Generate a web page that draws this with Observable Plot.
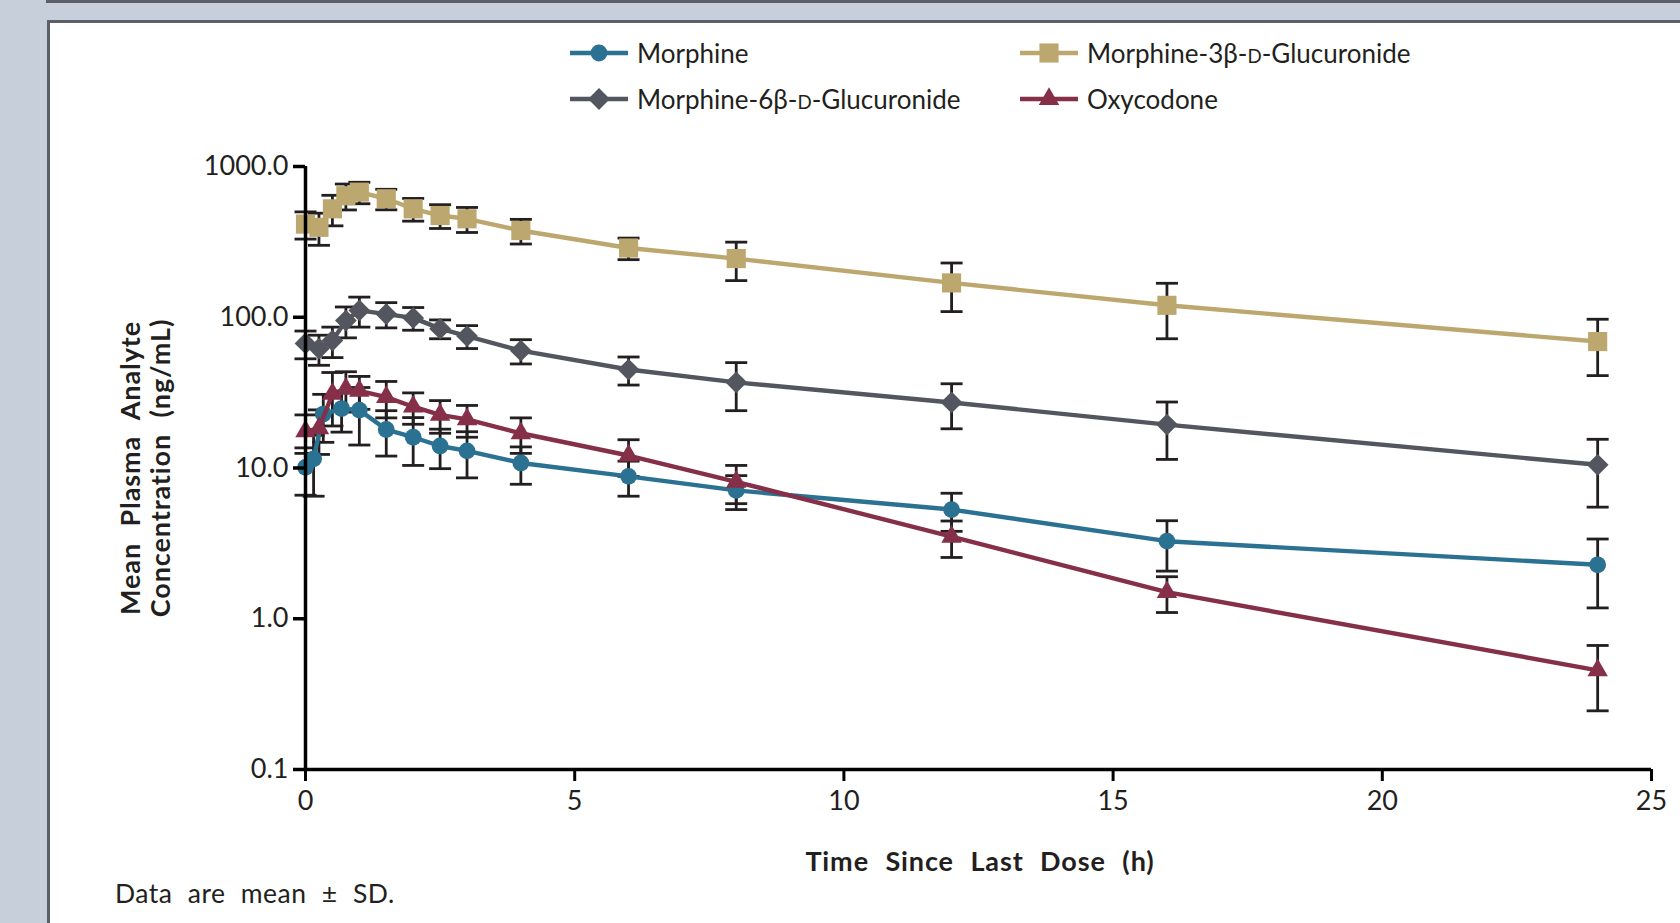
<!DOCTYPE html>
<html><head><meta charset="utf-8">
<script src="https://cdn.jsdelivr.net/npm/d3@7"></script>
<script src="https://cdn.jsdelivr.net/npm/@observablehq/plot@0.6"></script>
<style>
html,body{margin:0;padding:0;}
body{width:1680px;height:923px;background:#c7cfdb;position:relative;overflow:hidden;font-family:Lato,"Open Sans",sans-serif;color:#231f20;}
#topbar{position:absolute;left:46px;top:0;right:0;height:3px;background:#5b5f68;}
#panel{position:absolute;left:47px;top:20px;width:1640px;height:920px;background:#fff;border-left:3px solid #5b5f68;border-top:3px solid #5b5f68;}
#chart{position:absolute;left:0;top:130px;}
.leg{position:absolute;display:flex;align-items:center;font-size:26px;white-space:nowrap;transform:translateY(-50%);}
.leg svg{margin-right:9px;}
.sc{font-size:0.72em;}
#ytitle{position:absolute;left:145px;top:468px;transform:translate(-50%,-50%) rotate(-90deg);text-align:center;white-space:nowrap;font-weight:700;font-size:27px;line-height:30px;letter-spacing:0.9px;word-spacing:9px;}
#xtitle{position:absolute;left:980px;top:860px;transform:translate(-50%,-50%);white-space:nowrap;font-weight:700;font-size:27px;letter-spacing:0.9px;word-spacing:9px;}
#caption{position:absolute;left:115px;top:893px;transform:translateY(-50%);white-space:nowrap;font-size:26.5px;letter-spacing:0.5px;word-spacing:8px;}
</style>
</head>
<body>
<div id="topbar"></div>
<div id="panel"></div>
<div id="chart"></div>
<div id="ytitle">Mean Plasma Analyte<br>Concentration (ng/mL)</div>
<div id="xtitle">Time Since Last Dose (h)</div>
<div id="caption">Data are mean ± SD.</div>
<script>
// ---- data ----
const seriesNames = ["Morphine", "Morphine-3β-D-Glucuronide", "Morphine-6β-D-Glucuronide", "Oxycodone"];
const morphineTimes = [0, 0.15, 0.33, 0.67, 1, 1.5, 2, 2.5, 3, 4, 6, 8, 12, 16, 24];
const otherTimes    = [0, 0.25, 0.5, 0.75, 1, 1.5, 2, 2.5, 3, 4, 6, 8, 12, 16, 24];
const morphineMean = [10.1, 11.5, 22.8, 24.8, 24.2, 18.0, 16.0, 14.0, 13.0, 10.8, 8.8, 7.1, 5.3, 3.27, 2.28];
const morphineSD   = [3.5, 5.0, 8.0, 7.5, 10.0, 6.0, 5.6, 4.1, 4.4, 3.0, 2.3, 1.8, 1.5, 1.2, 1.1];
const m3gMean = [415, 395, 524, 640, 676, 611, 524, 473, 450, 376, 288, 245, 169, 120, 69];
const m3gSD   = [85, 95, 120, 125, 110, 95, 90, 85, 85, 70, 47, 70, 60, 48, 28];
const m6gMean = [67, 62, 70, 95, 111, 105, 99, 84, 75, 60, 45, 37, 27.2, 19.4, 10.5];
const m6gSD   = [14, 14, 16, 22, 25, 20, 17, 12, 13, 11, 9.5, 13, 9, 8, 5];
const oxyMean = [17.5, 18.3, 31, 33.5, 32.5, 29.5, 25.5, 22.5, 21, 17, 12.1, 8.1, 3.5, 1.5, 0.455];
const oxySD   = [5, 6, 12, 10, 8, 8, 6, 5.5, 5, 4.5, 3.3, 2.3, 0.95, 0.4, 0.21];
const xTicks = [0, 5, 10, 15, 20, 25];
const yTicks = [0.1, 1, 10, 100, 1000];

// ---- styling ----
const styles = {
  "Morphine": {color: "#2b7192", symbol: "circle", r: 8.4},
  "Morphine-3β-D-Glucuronide": {color: "#bca76f", symbol: "square", r: 10.8},
  "Morphine-6β-D-Glucuronide": {color: "#53565e", symbol: "diamond2", r: 9.8},
  "Oxycodone": {color: "#852f48", symbol: "triangle", r: 7.6}
};
const src = {
  "Morphine": [morphineTimes, morphineMean, morphineSD],
  "Morphine-3β-D-Glucuronide": [otherTimes, m3gMean, m3gSD],
  "Morphine-6β-D-Glucuronide": [otherTimes, m6gMean, m6gSD],
  "Oxycodone": [otherTimes, oxyMean, oxySD]
};
const rows = seriesNames.flatMap(name => {
  const [t, m, s] = src[name];
  return t.map((ti, i) => ({series: name, t: ti, mean: m[i], lo: m[i] - s[i], hi: m[i] + s[i]}));
});
const capSymbol = {draw(ctx) { ctx.moveTo(-11, 0); ctx.lineTo(11, 0); }};
const barColor = "#231f20";

const drawOrder = ["Morphine-3β-D-Glucuronide", "Morphine-6β-D-Glucuronide", "Morphine", "Oxycodone"];
const seriesMarks = drawOrder.flatMap(name => {
  const d = rows.filter(r => r.series === name);
  const st = styles[name];
  return [
    Plot.line(d, {x: "t", y: "mean", stroke: st.color, strokeWidth: 4.4}),
    Plot.dot(d, {x: "t", y: "mean", symbol: st.symbol, r: st.r, fill: st.color, stroke: "none"})
  ];
});

const chart = Plot.plot({
  width: 1680,
  height: 700,
  marginLeft: 305,
  marginRight: 29,
  marginTop: 36,
  marginBottom: 61,
  style: {fontFamily: "Lato, 'Open Sans', sans-serif", fontSize: "27px", color: "#231f20", background: "transparent", overflow: "visible"},
  x: {domain: [0, 25]},
  y: {type: "log", domain: [0.1, 1000]},
  marks: [
    Plot.ruleX(rows, {x: "t", y1: "lo", y2: "hi", stroke: barColor, strokeWidth: 2.8}),
    Plot.dot(rows, {x: "t", y: "hi", symbol: capSymbol, r: 1, stroke: barColor, strokeWidth: 2.8}),
    Plot.dot(rows, {x: "t", y: "lo", symbol: capSymbol, r: 1, stroke: barColor, strokeWidth: 2.8}),
    ...seriesMarks,
    Plot.ruleX([0], {stroke: "#000", strokeWidth: 3.5}),
    Plot.ruleY([0.1], {stroke: "#000", strokeWidth: 3.5}),
    Plot.axisY({ticks: yTicks, tickFormat: d3.format(".1f"), tickSize: 12, tickPadding: 5, strokeWidth: 3.5, stroke: "#000", label: null}),
    Plot.axisX({ticks: xTicks, tickFormat: d => String(d), tickSize: 12, tickPadding: 9, strokeWidth: 3, stroke: "#000", label: null})
  ]
});
document.getElementById("chart").appendChild(chart);

// ---- legend (HTML, swatches drawn with d3.symbol) ----
const legendPos = [
  {name: "Morphine", left: 570, top: 53},
  {name: "Morphine-3β-D-Glucuronide", left: 1020, top: 53},
  {name: "Morphine-6β-D-Glucuronide", left: 570, top: 99},
  {name: "Oxycodone", left: 1020, top: 99}
];
const symMap = {circle: d3.symbolCircle, square: d3.symbolSquare, diamond2: d3.symbolDiamond2, triangle: d3.symbolTriangle};
function labelHTML(name) {
  return name.replace("β-D-", "β-<span class=\"sc\">D</span>-");
}
for (const p of legendPos) {
  const st = styles[p.name];
  const div = document.createElement("div");
  div.className = "leg";
  div.style.left = p.left + "px";
  div.style.top = p.top + "px";
  const path = d3.symbol(symMap[st.symbol], Math.PI * st.r * st.r)();
  div.innerHTML = `<svg width="58" height="30" viewBox="0 0 58 30"><line x1="0" x2="58" y1="15" y2="15" stroke="${st.color}" stroke-width="4.4"/><path d="${path}" transform="translate(29,15)" fill="${st.color}"/></svg><span>${labelHTML(p.name)}</span>`;
  document.body.appendChild(div);
}
</script>
</body></html>
